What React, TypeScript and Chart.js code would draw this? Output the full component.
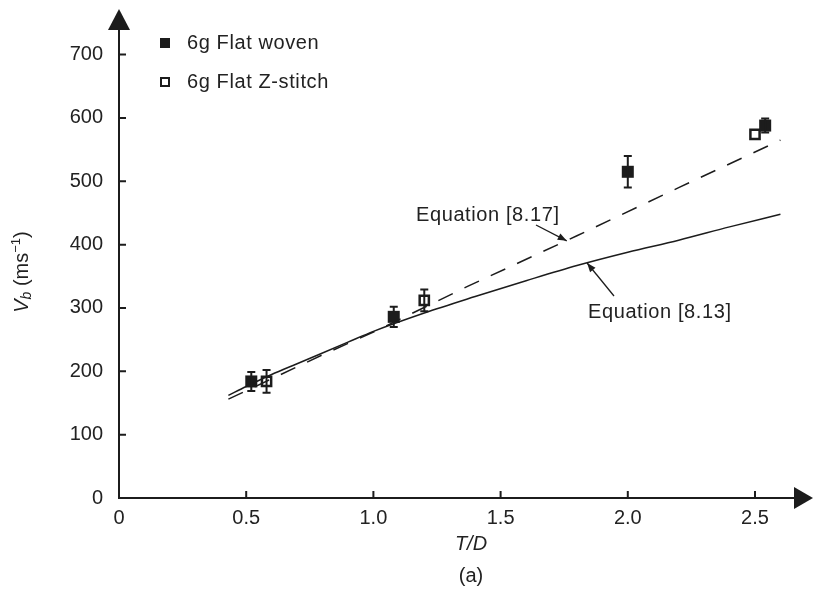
import React, { useEffect, useRef } from 'react';
import { Chart, registerables } from 'chart.js';

Chart.register(...registerables);

// ---- axis ticks ----
const X_TICKS = [0, 0.5, 1.0, 1.5, 2.0, 2.5];
const X_TICK_LABELS = ['0', '0.5', '1.0', '1.5', '2.0', '2.5'];
const Y_TICKS = [0, 100, 200, 300, 400, 500, 600, 700];
const Y_TICK_LABELS = ['0', '100', '200', '300', '400', '500', '600', '700'];

// ---- measured data ----
const WOVEN_LABEL = '6g Flat woven';
const WOVEN_X = [0.52, 1.08, 2.0, 2.54];
const WOVEN_Y = [184, 286, 515, 588];
const WOVEN_ERR = [15, 16, 25, 11];

const ZSTITCH_LABEL = '6g Flat Z-stitch';
const ZSTITCH_X = [0.58, 1.2, 2.5];
const ZSTITCH_Y = [184, 312, 574];
const ZSTITCH_ERR = [18, 17, 0];

// ---- model curves ----
const EQ813_LABEL = 'Equation [8.13]';
const EQ813_X = [0.43, 0.5, 0.6, 0.7, 0.8, 0.9, 1.0, 1.2, 1.4, 1.6, 1.8, 2.0, 2.2, 2.4, 2.6];
const EQ813_Y = [162, 176, 195, 212, 229, 246, 263, 292, 318, 343, 367, 388, 407, 428, 448];

const EQ817_LABEL = 'Equation [8.17]';
const EQ817_X = [0.43, 0.8, 1.0, 1.37, 1.8, 2.2, 2.6];
const EQ817_Y = [156, 226, 262, 334, 414, 490, 565];

const INK = '#1c1c1c';
const FONT = '"Liberation Sans", Arial, Helvetica, sans-serif';

function arrowHead(ctx: CanvasRenderingContext2D, fx: number, fy: number, tx: number, ty: number, len: number, half: number) {
  const a = Math.atan2(ty - fy, tx - fx);
  const bx = tx - len * Math.cos(a);
  const by = ty - len * Math.sin(a);
  ctx.beginPath();
  ctx.moveTo(tx, ty);
  ctx.lineTo(bx + half * Math.sin(a), by - half * Math.cos(a));
  ctx.lineTo(bx - half * Math.sin(a), by + half * Math.cos(a));
  ctx.closePath();
  ctx.fill();
}

const decorPlugin = {
  id: 'decor',
  afterDatasetsDraw(chart: any) {
    const ctx: CanvasRenderingContext2D = chart.ctx;
    const xs = chart.scales.x;
    const ys = chart.scales.y;
    const x0 = xs.getPixelForValue(0);
    const y0 = ys.getPixelForValue(0);
    const area = chart.chartArea;

    ctx.save();
    // error bars
    ctx.strokeStyle = INK;
    ctx.lineWidth = 2;
    const drawErr = (X: number[], Y: number[], E: number[]) => {
      for (let i = 0; i < X.length; i++) {
        if (!E[i]) continue;
        const px = xs.getPixelForValue(X[i]);
        const pt = ys.getPixelForValue(Y[i] + E[i]);
        const pb = ys.getPixelForValue(Y[i] - E[i]);
        ctx.beginPath();
        ctx.moveTo(px, pt);
        ctx.lineTo(px, pb);
        ctx.moveTo(px - 4, pt);
        ctx.lineTo(px + 4, pt);
        ctx.moveTo(px - 4, pb);
        ctx.lineTo(px + 4, pb);
        ctx.stroke();
      }
    };
    drawErr(WOVEN_X, WOVEN_Y, WOVEN_ERR);
    drawErr(ZSTITCH_X, ZSTITCH_Y, ZSTITCH_ERR);

    // axes
    ctx.strokeStyle = INK;
    ctx.fillStyle = INK;
    ctx.lineWidth = 2;
    ctx.beginPath();
    ctx.moveTo(x0, y0 + 1);
    ctx.lineTo(x0, area.top + 18);
    ctx.moveTo(x0 - 1, y0);
    ctx.lineTo(area.right - 16, y0);
    ctx.stroke();
    // arrowheads
    ctx.beginPath();
    ctx.moveTo(x0, area.top);
    ctx.lineTo(x0 - 11, area.top + 21);
    ctx.lineTo(x0 + 11, area.top + 21);
    ctx.closePath();
    ctx.fill();
    ctx.beginPath();
    ctx.moveTo(area.right, y0);
    ctx.lineTo(area.right - 19, y0 - 11);
    ctx.lineTo(area.right - 19, y0 + 11);
    ctx.closePath();
    ctx.fill();

    // ticks
    ctx.lineWidth = 2;
    ctx.beginPath();
    X_TICKS.forEach((v) => {
      if (v === 0) return;
      const px = xs.getPixelForValue(v);
      ctx.moveTo(px, y0);
      ctx.lineTo(px, y0 - 7);
    });
    Y_TICKS.forEach((v) => {
      if (v === 0) return;
      const py = ys.getPixelForValue(v);
      ctx.moveTo(x0, py);
      ctx.lineTo(x0 + 7, py);
    });
    ctx.stroke();

    // tick labels
    ctx.fillStyle = '#222';
    ctx.font = `20px ${FONT}`;
    ctx.textAlign = 'center';
    ctx.textBaseline = 'middle';
    X_TICKS.forEach((v, i) => {
      ctx.fillText(X_TICK_LABELS[i], xs.getPixelForValue(v), y0 + 20);
    });
    ctx.textAlign = 'right';
    Y_TICKS.forEach((v, i) => {
      ctx.fillText(Y_TICK_LABELS[i], x0 - 16, ys.getPixelForValue(v));
    });

    // x title and caption
    ctx.textAlign = 'center';
    ctx.font = `italic 20px ${FONT}`;
    ctx.fillText('T/D', 471, 544);
    ctx.font = `20px ${FONT}`;
    ctx.fillText('(a)', 471, 576);

    // y title (rotated)
    ctx.save();
    ctx.translate(22, 272);
    ctx.rotate(-Math.PI / 2);
    ctx.textAlign = 'left';
    ctx.textBaseline = 'middle';
    const parts: { t: string; f: string; dy: number }[] = [
      { t: 'V', f: `italic 20px ${FONT}`, dy: 0 },
      { t: 'b', f: `italic 14px ${FONT}`, dy: 5 },
      { t: ' (ms', f: `20px ${FONT}`, dy: 0 },
      { t: '\u22121', f: `13px ${FONT}`, dy: -6 },
      { t: ')', f: `20px ${FONT}`, dy: 0 },
    ];
    let total = 0;
    parts.forEach((p) => {
      ctx.font = p.f;
      total += ctx.measureText(p.t).width;
    });
    let cx = -total / 2;
    parts.forEach((p) => {
      ctx.font = p.f;
      ctx.fillText(p.t, cx, p.dy);
      cx += ctx.measureText(p.t).width;
    });
    ctx.restore();

    // legend
    ctx.font = `20px ${FONT}`;
    ctx.textAlign = 'left';
    ctx.textBaseline = 'middle';
    (ctx as any).letterSpacing = '0.6px';
    ctx.fillStyle = INK;
    ctx.fillRect(160, 38, 10, 10);
    ctx.lineWidth = 2;
    ctx.strokeRect(161, 78, 8, 8);
    ctx.fillStyle = '#222';
    ctx.fillText(WOVEN_LABEL, 187, 43);
    ctx.fillText(ZSTITCH_LABEL, 187, 82);

    // equation annotations
    ctx.fillText(EQ817_LABEL, 416, 215);
    ctx.fillText(EQ813_LABEL, 588, 312);
    (ctx as any).letterSpacing = '0px';

    ctx.strokeStyle = INK;
    ctx.fillStyle = INK;
    ctx.lineWidth = 1.3;
    // [8.17] arrow
    const t1x = xs.getPixelForValue(1.76);
    const t1y = ys.getPixelForValue(406);
    ctx.beginPath();
    ctx.moveTo(536, 225);
    ctx.lineTo(t1x, t1y);
    ctx.stroke();
    arrowHead(ctx, 536, 225, t1x, t1y, 9, 3.5);
    // [8.13] arrow
    const t2x = xs.getPixelForValue(1.84);
    const t2y = ys.getPixelForValue(371);
    ctx.beginPath();
    ctx.moveTo(614, 296);
    ctx.lineTo(t2x, t2y);
    ctx.stroke();
    arrowHead(ctx, 614, 296, t2x, t2y, 9, 3.5);

    ctx.restore();
  },
};

export default function App() {
  const ref = useRef<HTMLCanvasElement | null>(null);

  useEffect(() => {
    if (!ref.current) return;
    const chart = new Chart(ref.current, {
      type: 'scatter',
      data: {
        datasets: [
          {
            label: EQ813_LABEL,
            data: EQ813_X.map((x, i) => ({ x, y: EQ813_Y[i] })),
            showLine: true,
            borderColor: INK,
            borderWidth: 1.5,
            pointRadius: 0,
            cubicInterpolationMode: 'monotone',
            fill: false,
          } as any,
          {
            label: EQ817_LABEL,
            data: EQ817_X.map((x, i) => ({ x, y: EQ817_Y[i] })),
            showLine: true,
            borderColor: INK,
            borderWidth: 1.5,
            borderDash: [16, 13],
            pointRadius: 0,
            tension: 0,
            fill: false,
          } as any,
          {
            label: WOVEN_LABEL,
            data: WOVEN_X.map((x, i) => ({ x, y: WOVEN_Y[i] })),
            pointStyle: 'rect',
            pointRadius: 8.5,
            backgroundColor: INK,
            borderColor: INK,
            borderWidth: 0,
          },
          {
            label: ZSTITCH_LABEL,
            data: ZSTITCH_X.map((x, i) => ({ x, y: ZSTITCH_Y[i] })),
            pointStyle: 'rect',
            pointRadius: 6.5,
            backgroundColor: 'rgba(255,255,255,0)',
            borderColor: INK,
            borderWidth: 2.5,
          },
        ],
      },
      options: {
        responsive: false,
        animation: false,
        devicePixelRatio: 1,
        layout: { padding: { left: 119, right: 1, top: 3, bottom: 91 } },
        plugins: {
          legend: { display: false },
          tooltip: { enabled: false },
          title: { display: false },
        },
        scales: {
          x: { type: 'linear', display: false, min: 0, max: 2.728 },
          y: { type: 'linear', display: false, min: 0, max: 772 },
        },
      },
      plugins: [decorPlugin],
    });
    return () => chart.destroy();
  }, []);

  return (
    <div style={{ position: 'absolute', left: 0, top: 0, width: 822, height: 589, background: '#fff' }}>
      <canvas ref={ref} width={822} height={589} style={{ width: 822, height: 589, display: 'block' }} />
    </div>
  );
}
